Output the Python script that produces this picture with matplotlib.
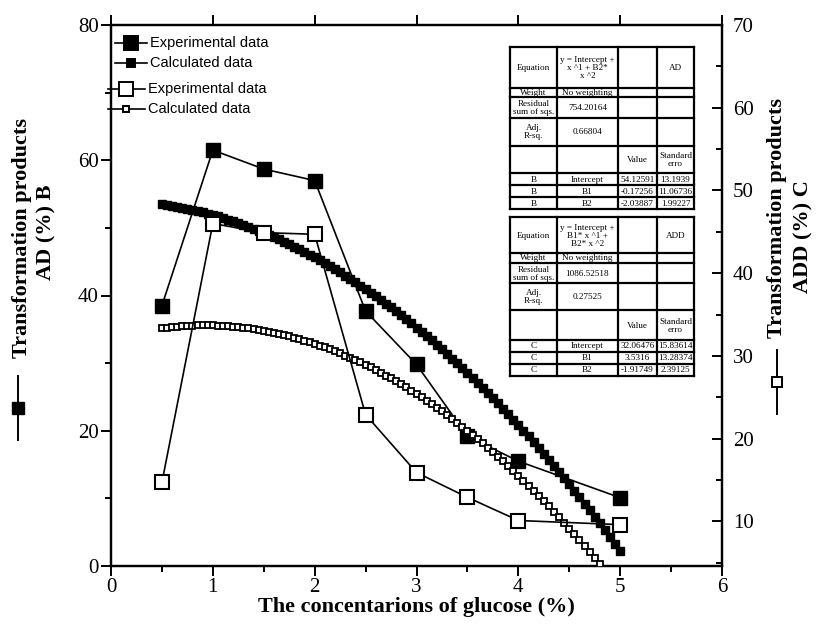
import matplotlib
matplotlib.use("Agg")
import matplotlib.pyplot as plt
from matplotlib.ticker import MultipleLocator

# ---------------- data ----------------
exp_x = [0.5, 1.0, 1.5, 2.0, 2.5, 3.0, 3.5, 4.0, 5.0]
exp_B = [38.5, 61.5, 58.7, 57.0, 37.7, 29.8, 19.2, 15.5, 10.1]   # AD (%) left axis
exp_C = [14.7, 46.0, 44.9, 44.7, 22.9, 15.9, 12.9, 10.1, 9.6]    # ADD (%) right axis

calc_x = [0.5, 0.55, 0.6, 0.65, 0.7, 0.75, 0.8, 0.85, 0.9, 0.95,
          1.0, 1.05, 1.1, 1.15, 1.2, 1.25, 1.3, 1.35, 1.4, 1.45,
          1.5, 1.55, 1.6, 1.65, 1.7, 1.75, 1.8, 1.85, 1.9, 1.95,
          2.0, 2.05, 2.1, 2.15, 2.2, 2.25, 2.3, 2.35, 2.4, 2.45,
          2.5, 2.55, 2.6, 2.65, 2.7, 2.75, 2.8, 2.85, 2.9, 2.95,
          3.0, 3.05, 3.1, 3.15, 3.2, 3.25, 3.3, 3.35, 3.4, 3.45,
          3.5, 3.55, 3.6, 3.65, 3.7, 3.75, 3.8, 3.85, 3.9, 3.95,
          4.0, 4.05, 4.1, 4.15, 4.2, 4.25, 4.3, 4.35, 4.4, 4.45,
          4.5, 4.55, 4.6, 4.65, 4.7, 4.75, 4.8, 4.85, 4.9, 4.95, 5.0]
calc_B = [53.53, 53.42, 53.29, 53.16, 53.01, 52.85, 52.68, 52.51, 52.32, 52.12,
          51.91, 51.70, 51.47, 51.23, 50.98, 50.73, 50.46, 50.18, 49.89, 49.59,
          49.28, 48.96, 48.63, 48.29, 47.94, 47.58, 47.21, 46.83, 46.44, 46.04,
          45.63, 45.21, 44.77, 44.33, 43.88, 43.42, 42.94, 42.46, 41.97, 41.47,
          40.95, 40.43, 39.89, 39.35, 38.80, 38.24, 37.66, 37.08, 36.48, 35.88,
          35.26, 34.64, 34.00, 33.36, 32.70, 32.03, 31.35, 30.67, 29.97, 29.27,
          28.55, 27.82, 27.08, 26.34, 25.58, 24.81, 24.03, 23.24, 22.44, 21.63,
          20.81, 19.99, 19.15, 18.30, 17.44, 16.57, 15.69, 14.80, 13.89, 12.98,
          12.06, 11.13, 10.19, 9.24, 8.28, 7.31, 6.32, 5.33, 4.33, 3.32, 2.29]
calc_C = [33.35, 33.43, 33.49, 33.55, 33.60, 33.63, 33.66, 33.68, 33.69, 33.69,
          33.68, 33.66, 33.63, 33.59, 33.54, 33.48, 33.42, 33.34, 33.25, 33.15,
          33.05, 32.93, 32.81, 32.67, 32.53, 32.37, 32.21, 32.03, 31.85, 31.66,
          31.46, 31.24, 31.02, 30.79, 30.55, 30.30, 30.04, 29.77, 29.50, 29.21,
          28.91, 28.60, 28.28, 27.95, 27.62, 27.27, 26.92, 26.55, 26.18, 25.79,
          25.40, 25.00, 24.59, 24.16, 23.73, 23.29, 22.84, 22.38, 21.91, 21.43,
          20.94, 20.44, 19.93, 19.41, 18.88, 18.34, 17.80, 17.24, 16.67, 16.09,
          15.51, 14.91, 14.31, 13.69, 13.07, 12.44, 11.80, 11.14, 10.48, 9.81,
          9.13, 8.44, 7.74, 7.03, 6.31, 5.58, 4.84, 4.09, 3.33, 2.56, 1.79]

legend_labels = ["Experimental data", "Calculated data",
                 "Experimental data", "Calculated data"]

table_AD = [["Equation", "y = Intercept +\nx ^1 + B2*\nx ^2", "", "AD"],
            ["Weight", "No weighting", "", ""],
            ["Residual\nsum of sqs.", "754.20164", "", ""],
            ["Adj.\nR-sq.", "0.66804", "", ""],
            ["", "", "Value", "Standard\nerro"],
            ["B", "Intercept", "54.12591", "13.1939"],
            ["B", "B1", "-0.17256", "11.06736"],
            ["B", "B2", "-2.03887", "1.99227"]]
table_ADD = [["Equation", "y = Intercept +\nB1* x ^1 +\nB2* x ^2", "", "ADD"],
             ["Weight", "No weighting", "", ""],
             ["Residual\nsum of sqs.", "1086.52518", "", ""],
             ["Adj.\nR-sq.", "0.27525", "", ""],
             ["", "", "Value", "Standard\nerro"],
             ["C", "Intercept", "32.06476", "15.83614"],
             ["C", "B1", "3.5316", "13.28374"],
             ["C", "B2", "-1.91749", "2.39125"]]

xlabel = "The concentarions of glucose (%)"
ylabel_left = ["Transformation products", "AD (%) B"]
ylabel_right = ["Transformation products", "ADD (%) C"]

# ---------------- figure ----------------
plt.rcParams['font.family'] = ['Liberation Serif', 'DejaVu Serif']
W, H = 817, 627
fig = plt.figure(figsize=(W / 100, H / 100), dpi=100)
L, R, T, B = 111, 722, 25, 566
ax = fig.add_axes([L / W, 1 - B / H, (R - L) / W, (B - T) / H])
ax2 = ax.twinx()

# left axis series (B)
ax.plot(calc_x, calc_B, color='black', lw=2.5, marker='s', ms=6.3,
        mfc='black', mec='black', zorder=3)
ax.plot(exp_x, exp_B, color='black', lw=1.2, marker='s', ms=9.5,
        mfc='black', mec='black', zorder=4)
# right axis series (C)
ax2.plot(calc_x, calc_C, color='black', lw=1.0, marker='s', ms=4.3,
         mfc='white', mec='black', mew=1.3, zorder=3)
ax2.plot(exp_x, exp_C, color='black', lw=1.2, marker='s', ms=9.5,
         mfc='white', mec='black', mew=1.5, zorder=4)

ax.set_xlim(0, 6)
ax.set_ylim(0, 80)
ax2.set_ylim(4.6, 70)
ax.xaxis.set_major_locator(MultipleLocator(1))
ax.xaxis.set_minor_locator(MultipleLocator(0.5))
ax.yaxis.set_major_locator(MultipleLocator(20))
ax.yaxis.set_minor_locator(MultipleLocator(10))
ax2.yaxis.set_major_locator(MultipleLocator(10))
ax2.yaxis.set_minor_locator(MultipleLocator(5))

for a in (ax, ax2):
    for s in a.spines.values():
        s.set_linewidth(1.6)
ax.tick_params(axis='both', which='major', direction='out', length=7, width=1.4,
               labelsize=15, pad=2)
ax.tick_params(axis='both', which='minor', direction='out', length=4, width=1.4)
ax.tick_params(axis='x', which='major', top=True, labeltop=False)
ax.tick_params(axis='x', which='minor', top=False)
ax2.tick_params(axis='y', which='major', direction='in', length=7, width=1.4,
                labelsize=15, pad=8)
ax2.tick_params(axis='y', which='minor', direction='in', length=4, width=1.4)

# overlay in pixel coordinates for annotations
ov = fig.add_axes([0, 0, 1, 1], zorder=10)
ov.set_xlim(0, W)
ov.set_ylim(H, 0)
ov.axis('off')
ov.patch.set_alpha(0)

# axis titles
ov.text((L + R) / 2, 607, xlabel, ha='center', va='center', fontsize=16,
        fontweight='bold')
ov.text(22, 238, ylabel_left[0], rotation=90, ha='center', va='center',
        fontsize=16, fontweight='bold')
ov.text(46, 232, ylabel_left[1], rotation=90, ha='center', va='center',
        fontsize=16, fontweight='bold')
ov.plot([18, 18, 18], [376, 408, 440], color='black', lw=1.4, marker='s',
        ms=8, markevery=[1], mfc='black')
ov.text(777, 218, ylabel_right[0], rotation=90, ha='center', va='center',
        fontsize=16, fontweight='bold')
ov.text(803, 237, ylabel_right[1], rotation=90, ha='center', va='center',
        fontsize=16, fontweight='bold')
ov.plot([777, 777, 777], [350, 382, 414], color='black', lw=1.4, marker='s',
        ms=6.5, markevery=[1], mfc='white', mew=1.4)

# legend (manual, Origin style)
leg_rows = [43, 63, 89, 109]
leg_style = [dict(ms=9.5, mfc='black'), dict(ms=6, mfc='black'),
             dict(ms=9.5, mfc='white'), dict(ms=4.5, mfc='white')]
leg_x = [(115, 147), (115, 147), (108, 145), (108, 145)]
for yy, lab, st, (x0, x1) in zip(leg_rows, legend_labels, leg_style, leg_x):
    ov.plot([x0, (x0 + x1) / 2, x1], [yy, yy, yy], color='black', lw=1.2,
            marker='s', markevery=[1], mec='black', mew=1.4, **st)
    ov.text(x1 + 3, yy, lab, ha='left', va='center', fontsize=10.5,
            family=['Liberation Sans', 'DejaVu Sans'])

# tables
def draw_table(rows_txt, col_edges, row_edges):
    x0, x1 = col_edges[0], col_edges[-1]
    y0, y1 = row_edges[0], row_edges[-1]
    ov.add_patch(plt.Rectangle((x0, y0), x1 - x0, y1 - y0, facecolor='white',
                               edgecolor='none', zorder=1))
    for xe in col_edges:
        ov.plot([xe, xe], [y0, y1], color='black', lw=1.6, zorder=2,
                solid_capstyle='projecting')
    for ye in row_edges:
        ov.plot([x0, x1], [ye, ye], color='black', lw=1.6, zorder=2,
                solid_capstyle='projecting')
    for i, row in enumerate(rows_txt):
        for j, txt in enumerate(row):
            if txt:
                ov.text((col_edges[j] + col_edges[j + 1]) / 2,
                        (row_edges[i] + row_edges[i + 1]) / 2 + 0.5, txt,
                        ha='center', va='center', fontsize=6.6,
                        linespacing=1.0, zorder=3)

cols = [510, 557, 618, 657, 694]
draw_table(table_AD, cols, [47, 88, 97, 118, 146, 173, 185, 197, 209])
draw_table(table_ADD, cols, [217, 253, 263, 283, 310, 340, 352, 364, 376])

fig.savefig("out.png", dpi=100)
